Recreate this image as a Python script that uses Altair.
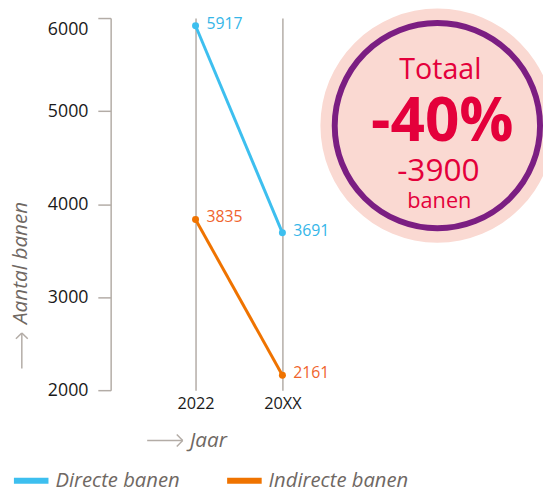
import altair as alt
import pandas as pd

# ---- data ----
years = ["2022", "20XX"]
series = ["Directe banen", "Indirecte banen"]
direct = [5917, 3691]
indirect = [3835, 2161]
y_ticks = [2000, 3000, 4000, 5000, 6000]
badge_lines = ["Totaal", "-40%", "-3900", "banen"]
x_title = "Jaar"
y_title = "Aantal banen"

rows = []
for s, vals in zip(series, [direct, indirect]):
    for yr, v in zip(years, vals):
        rows.append({"jaar": yr, "banen": v, "reeks": s})
df = pd.DataFrame(rows)

# ---- style ----
BLUE = "#3dbfef"
ORANGE = "#ef7300"
ORANGE_TXT = "#f0642d"
BLUE_TXT = "#35b6e8"
GRAY = "#b3aca6"
TITLE_GRAY = "#6f6863"
RED = "#e4003b"
PINK = "#fad9d2"
PURPLE = "#7b1e82"
FONT = "Open Sans"

x_enc = alt.X(
    "jaar:N",
    scale=alt.Scale(type="point", domain=years, range=[86, 174], padding=0),
    axis=alt.Axis(
        title=None, grid=True, gridColor=GRAY, gridWidth=1.5, domain=False,
        ticks=False, labelAngle=0, labelFontSize=16.5, labelColor="#1a1a1a",
        labelPadding=6, labelFont=FONT,
    ),
)
y_enc = alt.Y(
    "banen:Q",
    scale=alt.Scale(domain=[2000, 6000], nice=False, zero=False),
    axis=alt.Axis(
        title=None, values=y_ticks, format="d", grid=False, domainColor=GRAY,
        domainWidth=1.5, tickColor=GRAY, tickWidth=1.5, tickSize=13, labelPadding=10,
        labelFontSize=18, labelColor="#1a1a1a", labelFont=FONT,
        labelOffset={"condition": {"test": "datum.value == 6000", "value": 12}, "value": 0},
    ),
)
color_scale = alt.Scale(domain=series, range=[BLUE, ORANGE])

base = alt.Chart(df)

lines = base.mark_line(strokeWidth=3).encode(
    x=x_enc, y=y_enc,
    color=alt.Color(
        "reeks:N", scale=color_scale,
        legend=alt.Legend(
            title=None, orient="none", legendX=-101, legendY=448,
            direction="horizontal", symbolType="stroke", symbolStrokeWidth=6,
            symbolSize=1225, labelFont=FONT, labelFontSize=20.5,
            labelFontStyle="italic", labelColor=TITLE_GRAY, labelOffset=4,
            columnPadding=35, padding=0,
        ),
    ),
)
points = base.mark_circle(size=50, opacity=1).encode(
    x=x_enc, y=y_enc, color=alt.Color("reeks:N", scale=color_scale, legend=None)
)
lbl_direct = base.transform_filter(alt.datum.reeks == series[0]).mark_text(
    align="left", baseline="middle", dx=11, dy=-2, font=FONT, fontSize=16, color=BLUE_TXT
).encode(x=x_enc, y=y_enc, text="banen:Q")
lbl_indirect = base.transform_filter(alt.datum.reeks == series[1]).mark_text(
    align="left", baseline="middle", dx=11, dy=-2, font=FONT, fontSize=16, color=ORANGE_TXT
).encode(x=x_enc, y=y_enc, text="banen:Q")

one = alt.Data(values=[{}])

def deco_circle(size, filled, color, sw=0):
    if filled:
        m = alt.Chart(one).mark_point(shape="circle", filled=True, fill=color, opacity=1, strokeWidth=0)
    else:
        m = alt.Chart(one).mark_point(shape="circle", filled=False, stroke=color, strokeWidth=sw, opacity=1)
    return m.encode(x=alt.value(331), y=alt.value(109), size=alt.value(size))

def deco_text(txt, x, y, size, color, weight="normal", style="normal", angle=0, baseline="alphabetic"):
    return alt.Chart(one).mark_text(
        font=FONT, fontSize=size, color=color, fontWeight=weight, fontStyle=style,
        align="center", baseline=baseline, angle=angle,
    ).encode(x=alt.value(x), y=alt.value(y), text=alt.value(txt))

def seg(x1, y1, x2, y2):
    return alt.Chart(one).mark_rule(color=GRAY, strokeWidth=1.5).encode(
        x=alt.value(x1), y=alt.value(y1), x2=alt.value(x2), y2=alt.value(y2)
    )

badge = [
    deco_circle(56169, True, PINK),
    deco_circle(43264, False, PURPLE, 6),
    deco_text(badge_lines[0], 334, 62, 29, RED),
    deco_text(badge_lines[1], 336, 125, 61, RED, weight="bold"),
    deco_text(badge_lines[2], 332, 165, 32, RED),
    deco_text(badge_lines[3], 333, 192, 22, RED),
]

titles = [
    deco_text(x_title, 99, 435, 21, TITLE_GRAY, style="italic"),
    deco_text(y_title, -91, 248, 21, TITLE_GRAY, style="italic", angle=270, baseline="middle"),
    # horizontal arrow
    seg(37, 428, 73, 428), seg(73, 428, 67, 422), seg(73, 428, 67, 434),
    # vertical arrow
    seg(-90, 355, -90, 319), seg(-90, 319, -96, 325), seg(-90, 319, -84, 325),
]

chart = alt.layer(
    *badge, lines, points, lbl_direct, lbl_indirect, *titles
).properties(
    width=438, height=377,
    padding={"left": 104, "top": 7, "right": 0, "bottom": 101},
    autosize=alt.AutoSizeParams(type="none"),
).configure_view(stroke=None)

chart.save("out.html", embed_options={"renderer": "svg", "actions": False})
